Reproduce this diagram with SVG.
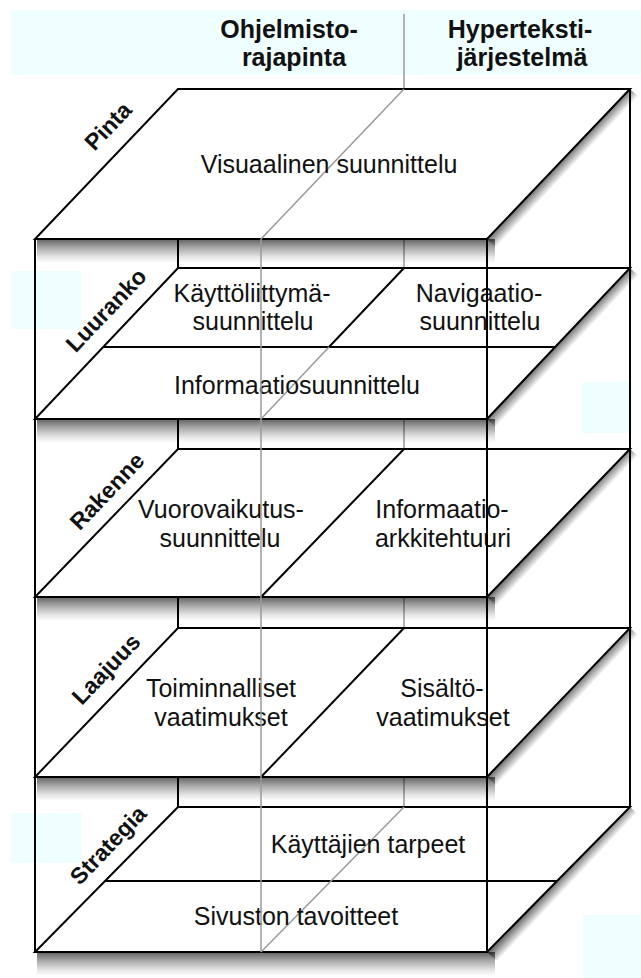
<svg xmlns="http://www.w3.org/2000/svg" width="641" height="978" viewBox="0 0 641 978">
<defs>
<style>
.bg{fill:#effefe}
.plane{fill:#fff;stroke:#000;stroke-width:2;stroke-linejoin:miter}
.ln{stroke:#000;stroke-width:2;fill:none}
.gr{stroke:#9a9a9a;stroke-width:1.5;fill:none}
.t{font-family:"Liberation Sans",Arial,Helvetica,sans-serif;font-size:25px;text-anchor:middle;fill:#111}
.h{font-family:"Liberation Sans",Arial,Helvetica,sans-serif;font-size:25px;font-weight:bold;text-anchor:middle;fill:#111}
.lab{font-family:"Liberation Sans",Arial,Helvetica,sans-serif;font-size:23px;font-weight:bold;text-anchor:middle;fill:#111}
</style>
<linearGradient id="gf" x1="0" y1="0" x2="0" y2="1">
<stop offset="0" stop-color="#000" stop-opacity="0.62"/>
<stop offset="0.35" stop-color="#000" stop-opacity="0.35"/>
<stop offset="0.75" stop-color="#000" stop-opacity="0.1"/>
<stop offset="1" stop-color="#000" stop-opacity="0"/>
</linearGradient>
<linearGradient id="gd1" gradientUnits="userSpaceOnUse" x1="558.5" y1="164" x2="567" y2="172">
<stop offset="0" stop-color="#000" stop-opacity="0.55"/><stop offset="1" stop-color="#000" stop-opacity="0"/>
</linearGradient>
<linearGradient id="gd2" gradientUnits="userSpaceOnUse" x1="558.5" y1="343.5" x2="567" y2="351.5">
<stop offset="0" stop-color="#000" stop-opacity="0.55"/><stop offset="1" stop-color="#000" stop-opacity="0"/>
</linearGradient>
<linearGradient id="gd3" gradientUnits="userSpaceOnUse" x1="558.5" y1="523" x2="567" y2="531">
<stop offset="0" stop-color="#000" stop-opacity="0.55"/><stop offset="1" stop-color="#000" stop-opacity="0"/>
</linearGradient>
<linearGradient id="gd4" gradientUnits="userSpaceOnUse" x1="558.5" y1="702.5" x2="567" y2="710.5">
<stop offset="0" stop-color="#000" stop-opacity="0.55"/><stop offset="1" stop-color="#000" stop-opacity="0"/>
</linearGradient>
<linearGradient id="gd5" gradientUnits="userSpaceOnUse" x1="558.5" y1="879.5" x2="567" y2="887.5">
<stop offset="0" stop-color="#000" stop-opacity="0.55"/><stop offset="1" stop-color="#000" stop-opacity="0"/>
</linearGradient>
</defs>
<rect width="641" height="978" fill="#fff"/>
<g id="backgrounds">
<rect class="bg" x="11" y="10" width="630" height="65"/>
<rect class="bg" x="11" y="271" width="71" height="58"/>
<rect class="bg" x="11" y="813" width="71" height="50"/>
<rect class="bg" x="582" y="382" width="48" height="51"/>
<rect class="bg" x="583" y="915" width="58" height="63"/>
</g>
<g id="header">
<text class="h" x="289" y="38">Ohjelmisto-</text>
<text class="h" x="294" y="66">rajapinta</text>
<text class="h" x="520" y="38">Hyperteksti-</text>
<text class="h" x="522" y="66">järjestelmä</text>
</g>
<g id="connectors">
<path class="gr" d="M404,14 V89 M404,239 V268 M404,419 V449 M404,597 V628 M404,777 V807"/>
<path class="ln" d="M178,239 V268 M178,419 V449 M178,597 V628 M178,777 V807"/>
</g>
<g id="shadows">
<rect x="37" y="239" width="458" height="24" fill="url(#gf)"/>
<polygon points="630,89 642,100 499,250 487,239" fill="url(#gd1)"/>
<rect x="37" y="419" width="458" height="24" fill="url(#gf)"/>
<polygon points="630,268 642,279 499,430 487,419" fill="url(#gd2)"/>
<rect x="37" y="597" width="458" height="24" fill="url(#gf)"/>
<polygon points="630,449 642,460 499,608 487,597" fill="url(#gd3)"/>
<rect x="37" y="777" width="458" height="24" fill="url(#gf)"/>
<polygon points="630,628 642,639 499,788 487,777" fill="url(#gd4)"/>
<rect x="37" y="952" width="458" height="24" fill="url(#gf)"/>
<polygon points="630,807 642,818 499,963 487,952" fill="url(#gd5)"/>
</g>
<g id="pinta">
<path class="plane" d="M178,89 L630,89 L487,239 L35,239 Z"/>
<path class="gr" d="M404,89 L261,239"/>
<text class="t" x="329" y="173">Visuaalinen suunnittelu</text>
<text class="lab" transform="translate(108,126) rotate(-46.4)" y="8">Pinta</text>
</g>
<g id="luuranko">
<path class="plane" d="M178,268 L630,268 L487,419 L35,419 Z"/>
<path class="ln" d="M103,347 H555 M404,268 L329,347"/>
<path class="gr" d="M329,347 L261,419"/>
<text class="t" x="252" y="302">Käyttöliittymä-</text>
<text class="t" x="253" y="330">suunnittelu</text>
<text class="t" x="479" y="302">Navigaatio-</text>
<text class="t" x="480" y="330">suunnittelu</text>
<text class="t" x="297" y="394">Informaatiosuunnittelu</text>
<text class="lab" transform="translate(106,310) rotate(-46.4)" y="8">Luuranko</text>
</g>
<g id="rakenne">
<path class="plane" d="M178,449 L630,449 L487,597 L35,597 Z"/>
<path class="ln" d="M404,449 L261,597"/>
<text class="t" x="221" y="518">Vuorovaikutus-</text>
<text class="t" x="220" y="547">suunnittelu</text>
<text class="t" x="442" y="518">Informaatio-</text>
<text class="t" x="443" y="547">arkkitehtuuri</text>
<text class="lab" transform="translate(107,491) rotate(-46.4)" y="8">Rakenne</text>
</g>
<g id="laajuus">
<path class="plane" d="M178,628 L630,628 L487,777 L35,777 Z"/>
<path class="ln" d="M404,628 L261,777"/>
<text class="t" x="221" y="697">Toiminnalliset</text>
<text class="t" x="221" y="726">vaatimukset</text>
<text class="t" x="442" y="697">Sisältö-</text>
<text class="t" x="443" y="726">vaatimukset</text>
<text class="lab" transform="translate(106,669) rotate(-46.4)" y="8">Laajuus</text>
</g>
<g id="strategia">
<path class="plane" d="M178,807 L630,807 L487,952 L35,952 Z"/>
<path class="ln" d="M105,881 H557"/>
<path class="gr" d="M404,807 L261,952"/>
<text class="t" x="368" y="853">Käyttäjien tarpeet</text>
<text class="t" x="296" y="925">Sivuston tavoitteet</text>
<text class="lab" transform="translate(108,845) rotate(-46.4)" y="8">Strategia</text>
</g>
<g id="frame">
<path class="ln" d="M35,239 V952 M487,239 V952 M630,89 V807"/>
<path class="gr" d="M261,239 V952"/>
</g>
</svg>
